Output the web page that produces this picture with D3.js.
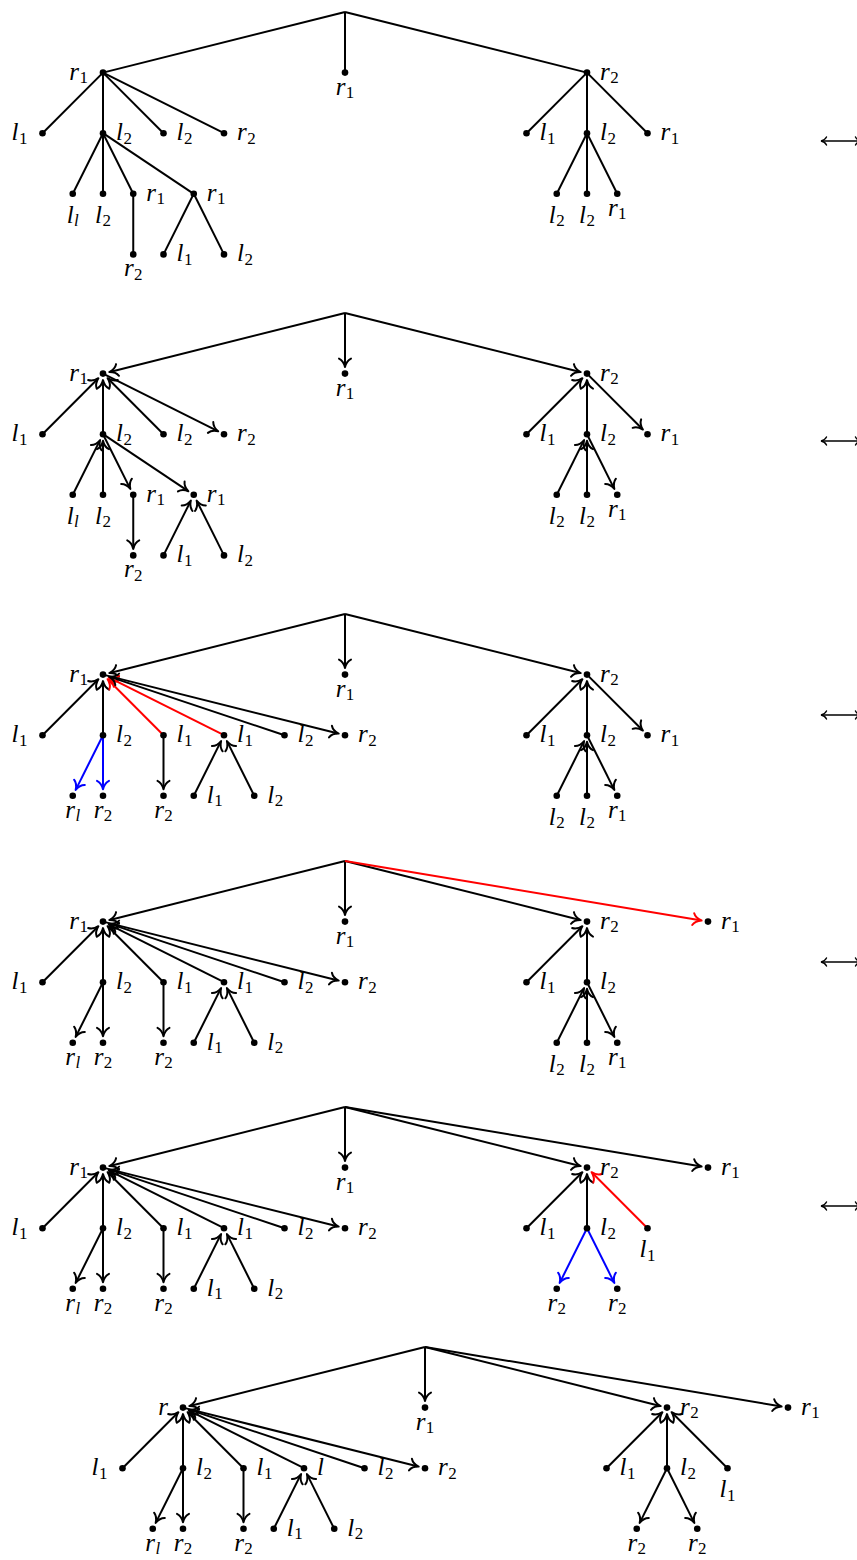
<!DOCTYPE html>
<html>
<head>
<meta charset="utf-8">
<script src="https://cdn.jsdelivr.net/npm/d3@7"></script>
<style>
  body { margin: 0; background: #fff; }
  svg { display: block; }
  text { font-family: "Liberation Serif", "Times New Roman", serif; }
</style>
</head>
<body>
<div id="chart"></div>
<script>
const width = 857;
const height = 1560;

// where each tree's root sits, and the y of the swap arrows on the right
const panelRootX = [345, 345, 345, 345, 345, 425];
const panelRootY = [12, 313, 614, 861, 1107, 1347];
const swapArrowY = [141, 441, 715, 962, 1206];

// nodes: [id, column, depth, letter, subscript, label side]
const topNodes = [
  ["root", 0, 0, "", "", "none"],
  ["b", 0, 1, "r", "1", "below"]
];

const leftNodesOld = [
  ["a", -8, 1, "r", "1", "left"],
  ["a1", -10, 2, "l", "1", "left"],
  ["a2", -8, 2, "l", "2", "right"],
  ["a3", -6, 2, "l", "2", "right"],
  ["a4", -4, 2, "r", "2", "right"],
  ["a21", -9, 3, "l", "l", "below"],
  ["a22", -8, 3, "l", "2", "below"],
  ["a23", -7, 3, "r", "1", "right"],
  ["a24", -5, 3, "r", "1", "right"],
  ["a231", -7, 4, "r", "2", "below"],
  ["a241", -6, 4, "l", "1", "right"],
  ["a242", -4, 4, "l", "2", "right"]
];

const leftNodesNew = [
  ["a", -8, 1, "r", "1", "left"],
  ["a1", -10, 2, "l", "1", "left"],
  ["a2", -8, 2, "l", "2", "right"],
  ["a3", -6, 2, "l", "1", "right"],
  ["a4", -4, 2, "l", "1", "right"],
  ["a5", -2, 2, "l", "2", "right"],
  ["a6", 0, 2, "r", "2", "right"],
  ["a21", -9, 3, "r", "l", "below"],
  ["a22", -8, 3, "r", "2", "below"],
  ["a31", -6, 3, "r", "2", "below"],
  ["a41", -5, 3, "l", "1", "right"],
  ["a42", -3, 3, "l", "2", "right"]
];

const leftNodesLast = [
  ["a", -8, 1, "r", "", "left"],
  ["a1", -10, 2, "l", "1", "left"],
  ["a2", -8, 2, "l", "2", "right"],
  ["a3", -6, 2, "l", "1", "right"],
  ["a4", -4, 2, "l", "", "right"],
  ["a5", -2, 2, "l", "2", "right"],
  ["a6", 0, 2, "r", "2", "right"],
  ["a21", -9, 3, "r", "l", "below"],
  ["a22", -8, 3, "r", "2", "below"],
  ["a31", -6, 3, "r", "2", "below"],
  ["a41", -5, 3, "l", "1", "right"],
  ["a42", -3, 3, "l", "2", "right"]
];

const rightNodesOld = [
  ["c", 8, 1, "r", "2", "right"],
  ["c1", 6, 2, "l", "1", "right"],
  ["c2", 8, 2, "l", "2", "right"],
  ["c3", 10, 2, "r", "1", "right"],
  ["c21", 7, 3, "l", "2", "below"],
  ["c22", 8, 3, "l", "2", "below"],
  ["c23", 9, 3, "r", "1", "below"]
];

const rightNodesMoved = [
  ["c", 8, 1, "r", "2", "right"],
  ["d", 12, 1, "r", "1", "right"],
  ["c1", 6, 2, "l", "1", "right"],
  ["c2", 8, 2, "l", "2", "right"],
  ["c21", 7, 3, "l", "2", "below"],
  ["c22", 8, 3, "l", "2", "below"],
  ["c23", 9, 3, "r", "1", "below"]
];

const rightNodesNew = [
  ["c", 8, 1, "r", "2", "right"],
  ["d", 12, 1, "r", "1", "right"],
  ["c1", 6, 2, "l", "1", "right"],
  ["c2", 8, 2, "l", "2", "right"],
  ["c3", 10, 2, "l", "1", "below"],
  ["c21", 7, 3, "r", "2", "below"],
  ["c22", 9, 3, "r", "2", "below"]
];

// edges: [parent, child, arrow head at ("none" | "child" | "parent"), highlight]
const edges1 = [
  ["root", "a", "none", ""], ["root", "b", "none", ""], ["root", "c", "none", ""],
  ["a", "a1", "none", ""], ["a", "a2", "none", ""], ["a", "a3", "none", ""], ["a", "a4", "none", ""],
  ["a2", "a21", "none", ""], ["a2", "a22", "none", ""], ["a2", "a23", "none", ""], ["a2", "a24", "none", ""],
  ["a23", "a231", "none", ""], ["a24", "a241", "none", ""], ["a24", "a242", "none", ""],
  ["c", "c1", "none", ""], ["c", "c2", "none", ""], ["c", "c3", "none", ""],
  ["c2", "c21", "none", ""], ["c2", "c22", "none", ""], ["c2", "c23", "none", ""]
];

const edges2 = [
  ["root", "a", "child", ""], ["root", "b", "child", ""], ["root", "c", "child", ""],
  ["a", "a1", "parent", ""], ["a", "a2", "parent", ""], ["a", "a3", "parent", ""], ["a", "a4", "child", ""],
  ["a2", "a21", "parent", ""], ["a2", "a22", "parent", ""], ["a2", "a23", "child", ""], ["a2", "a24", "child", ""],
  ["a23", "a231", "child", ""], ["a24", "a241", "parent", ""], ["a24", "a242", "parent", ""],
  ["c", "c1", "parent", ""], ["c", "c2", "parent", ""], ["c", "c3", "child", ""],
  ["c2", "c21", "parent", ""], ["c2", "c22", "parent", ""], ["c2", "c23", "child", ""]
];

const edges3 = [
  ["root", "a", "child", ""], ["root", "b", "child", ""], ["root", "c", "child", ""],
  ["a", "a1", "parent", ""], ["a", "a2", "parent", ""], ["a", "a3", "parent", "red"],
  ["a", "a4", "parent", "red"], ["a", "a5", "parent", ""], ["a", "a6", "child", ""],
  ["a2", "a21", "child", "blue"], ["a2", "a22", "child", "blue"], ["a3", "a31", "child", ""],
  ["a4", "a41", "parent", ""], ["a4", "a42", "parent", ""],
  ["c", "c1", "parent", ""], ["c", "c2", "parent", ""], ["c", "c3", "child", ""],
  ["c2", "c21", "parent", ""], ["c2", "c22", "parent", ""], ["c2", "c23", "child", ""]
];

const edges4 = [
  ["root", "a", "child", ""], ["root", "b", "child", ""], ["root", "c", "child", ""], ["root", "d", "child", "red"],
  ["a", "a1", "parent", ""], ["a", "a2", "parent", ""], ["a", "a3", "parent", ""],
  ["a", "a4", "parent", ""], ["a", "a5", "parent", ""], ["a", "a6", "child", ""],
  ["a2", "a21", "child", ""], ["a2", "a22", "child", ""], ["a3", "a31", "child", ""],
  ["a4", "a41", "parent", ""], ["a4", "a42", "parent", ""],
  ["c", "c1", "parent", ""], ["c", "c2", "parent", ""],
  ["c2", "c21", "parent", ""], ["c2", "c22", "parent", ""], ["c2", "c23", "child", ""]
];

const edges5 = [
  ["root", "a", "child", ""], ["root", "b", "child", ""], ["root", "c", "child", ""], ["root", "d", "child", ""],
  ["a", "a1", "parent", ""], ["a", "a2", "parent", ""], ["a", "a3", "parent", ""],
  ["a", "a4", "parent", ""], ["a", "a5", "parent", ""], ["a", "a6", "child", ""],
  ["a2", "a21", "child", ""], ["a2", "a22", "child", ""], ["a3", "a31", "child", ""],
  ["a4", "a41", "parent", ""], ["a4", "a42", "parent", ""],
  ["c", "c1", "parent", ""], ["c", "c2", "parent", ""], ["c", "c3", "parent", "red"],
  ["c2", "c21", "child", "blue"], ["c2", "c22", "child", "blue"]
];

const edges6 = [
  ["root", "a", "child", ""], ["root", "b", "child", ""], ["root", "c", "child", ""], ["root", "d", "child", ""],
  ["a", "a1", "parent", ""], ["a", "a2", "parent", ""], ["a", "a3", "parent", ""],
  ["a", "a4", "parent", ""], ["a", "a5", "parent", ""], ["a", "a6", "child", ""],
  ["a2", "a21", "child", ""], ["a2", "a22", "child", ""], ["a3", "a31", "child", ""],
  ["a4", "a41", "parent", ""], ["a4", "a42", "parent", ""],
  ["c", "c1", "parent", ""], ["c", "c2", "parent", ""], ["c", "c3", "parent", ""],
  ["c2", "c21", "child", ""], ["c2", "c22", "child", ""]
];

const panels = [
  { nodes: topNodes.concat(leftNodesOld, rightNodesOld), edges: edges1 },
  { nodes: topNodes.concat(leftNodesOld, rightNodesOld), edges: edges2 },
  { nodes: topNodes.concat(leftNodesNew, rightNodesOld), edges: edges3 },
  { nodes: topNodes.concat(leftNodesNew, rightNodesMoved), edges: edges4 },
  { nodes: topNodes.concat(leftNodesNew, rightNodesNew), edges: edges5 },
  { nodes: topNodes.concat(leftNodesLast, rightNodesNew), edges: edges6 }
];

const colStep = 30.25;
const depthStep = 60.6;
const tipGap = 6.5;     // arrow tip stops short of the dot centre
const lw = 2;
const color = d3.scaleOrdinal().domain(["", "red", "blue"]).range(["#000", "#ff0000", "#0000ff"]);

const svg = d3.select("#chart")
  .append("svg")
  .attr("width", width)
  .attr("height", height);

// curved "to" style head, tip at origin pointing along +x
const headPath = "M -8.5,-6 C -7,-2.8 -3,-0.7 0,0 C -3,0.7 -7,2.8 -8.5,6";

panels.forEach((panel, i) => {
  const x = d3.scaleLinear().domain([0, 1]).range([panelRootX[i], panelRootX[i] + colStep]);
  const y = d3.scaleLinear().domain([0, 1]).range([panelRootY[i], panelRootY[i] + depthStep]);

  const pos = {};
  panel.nodes.forEach(n => { pos[n[0]] = { x: x(n[1]), y: y(n[2]) }; });

  const g = svg.append("g");

  panel.edges.forEach(e => {
    const p = pos[e[0]], c = pos[e[1]];
    const col = color(e[3]);
    let from = p, to = c;
    if (e[2] === "parent") { from = c; to = p; }
    const dx = to.x - from.x, dy = to.y - from.y;
    const len = Math.sqrt(dx * dx + dy * dy);
    const ux = dx / len, uy = dy / len;
    const hasHead = e[2] !== "none";
    const ex = hasHead ? to.x - ux * tipGap : to.x;
    const ey = hasHead ? to.y - uy * tipGap : to.y;
    g.append("line")
      .attr("x1", from.x).attr("y1", from.y)
      .attr("x2", hasHead ? ex - ux * 1.5 : ex)
      .attr("y2", hasHead ? ey - uy * 1.5 : ey)
      .attr("stroke", col)
      .attr("stroke-width", lw);
    if (hasHead) {
      const ang = Math.atan2(uy, ux) * 180 / Math.PI;
      g.append("path")
        .attr("d", headPath)
        .attr("transform", `translate(${ex},${ey}) rotate(${ang})`)
        .attr("fill", "none")
        .attr("stroke", col)
        .attr("stroke-width", lw)
        .attr("stroke-linecap", "round")
        .attr("stroke-linejoin", "round");
    }
  });

  panel.nodes.filter(n => n[0] !== "root").forEach(n => {
    const p = pos[n[0]];
    g.append("circle")
      .attr("cx", p.x).attr("cy", p.y)
      .attr("r", 3.3)
      .attr("fill", "#000");

    const side = n[5];
    let tx = p.x, ty = p.y + 7, anchor = "start";
    if (side === "left") { tx = p.x - 15; anchor = "end"; }
    if (side === "right") { tx = p.x + 13; }
    if (side === "below") { anchor = "middle"; ty = p.y + (n[3] === "l" ? 29 : 22); }

    const t = g.append("text")
      .attr("x", tx).attr("y", ty)
      .attr("text-anchor", anchor)
      .style("fill", "#000");
    t.append("tspan")
      .style("font-size", "25px")
      .style("font-style", "italic")
      .text(n[3]);
    if (n[4] !== "") {
      t.append("tspan")
        .style("font-size", "17px")
        .attr("dy", 3.5)
        .attr("dx", 0.5)
        .style("font-style", n[4] === "l" ? "italic" : "normal")
        .text(n[4]);
    }
  });
});

// the double arrows cut off at the right edge
swapArrowY.forEach(yy => {
  const g = svg.append("g");
  g.append("line")
    .attr("x1", 822).attr("y1", yy)
    .attr("x2", 862).attr("y2", yy)
    .attr("stroke", "#000")
    .attr("stroke-width", 1.4);
  [[821, 180], [861, 0]].forEach(h => {
    g.append("path")
      .attr("d", "M -5.5,-4 C -4.4,-1.8 -1.8,-0.4 0,0 C -1.8,0.4 -4.4,1.8 -5.5,4")
      .attr("transform", `translate(${h[0]},${yy}) rotate(${h[1]})`)
      .attr("fill", "none")
      .attr("stroke", "#000")
      .attr("stroke-width", 1.4)
      .attr("stroke-linecap", "round");
  });
});
</script>
</body>
</html>
